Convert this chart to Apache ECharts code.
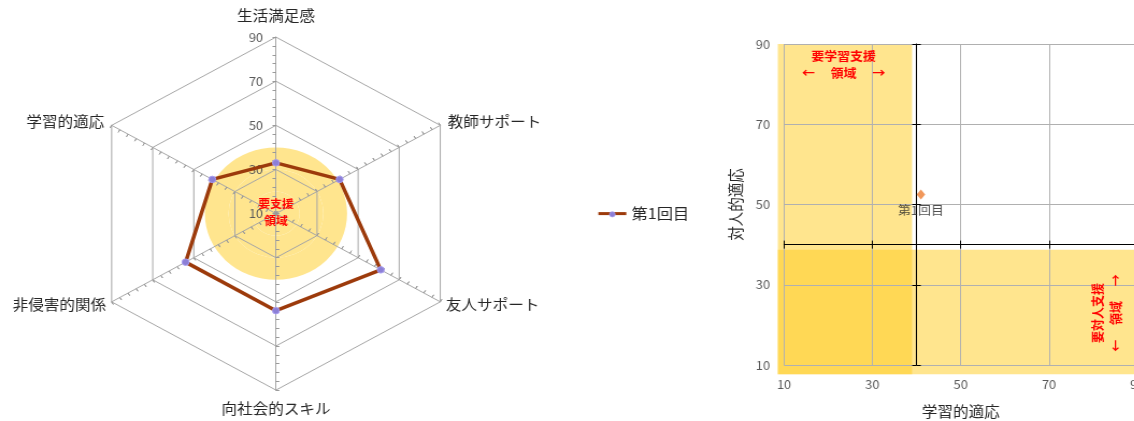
<!DOCTYPE html>
<html><head><meta charset="utf-8">
<script src="https://cdn.jsdelivr.net/npm/echarts@6/dist/echarts.min.js"></script>
<style>
html,body{margin:0;padding:0;overflow:hidden;background:#fff;}
#wrap{width:1134px;height:421px;overflow:hidden;position:relative;}
#chart{width:1075px;height:421px;transform:scaleX(1.075);transform-origin:0 0;}
</style></head><body><div id="wrap"><div id="chart"></div></div>
<script>
// ---- data ----
const indicators = ['生活満足感', '学習的適応', '非侵害的関係', '向社会的スキル', '友人サポート', '教師サポート'];
const scores = [33, 41, 54, 54, 61, 41];
const seriesName = '第1回目';
const radarMin = 10, radarMax = 90;
const scatterPoint = [41, 52.5];
const xAxisName = '学習的適応';
const yAxisName = '対人的適応';
const axisMin = 10, axisMax = 90, axisStep = 20;
const crossValue = 40;
const zoneLearning = [8.6, 39, 7.7, 90];   // x0, x1, y0, y1
const zoneSocial = [8.6, 100, 7.7, 38.7];
const centerNote = '要支援\n領域';
const learningNote = '要学習支援\n←　 領域 　→';
const socialNote = '要対人支援\n←　 領域 　→';

// ---- layout ----
const FONT = '"Noto Sans CJK JP", "Noto Sans", sans-serif';
const RC = [256.7, 213.6], RR = 176.5;
const G = {left: 729.3, top: 44, width: 328.7, height: 321};
const nameGaps = [14, 8, 6, 11, 6, 8];
const crossFrac = (crossValue - axisMin) / (axisMax - axisMin);
const TXT = '#262626', LBL = '#595959', GRID = '#B0B0B0', RGRID = '#A6A6A6';
const YEL = '#FFE58E', LINE = '#9C3A0B', MARK = '#8C7FD6';
const LEG = {left: 556.6, top: 206.1, w: 26, h: 3, cy: 214.3};

function baseRadar(extra) {
  return Object.assign({
    center: RC, radius: RR, startAngle: 90, shape: 'polygon',
    indicator: indicators.map(() => ({name: '', min: radarMin, max: radarMax})),
    axisName: {show: false}, axisLine: {show: false}, axisTick: {show: false},
    axisLabel: {show: false}, splitLine: {show: false}, splitArea: {show: false}
  }, extra);
}

const chart = echarts.init(document.getElementById('chart'), null, {renderer: 'canvas'});
chart.setOption({
  animation: false,
  textStyle: {fontFamily: FONT},
  radar: [
    baseRadar({shape: 'circle', splitNumber: 8,
      splitArea: {show: true, areaStyle: {color: [YEL, YEL, YEL, 'rgba(0,0,0,0)', 'rgba(0,0,0,0)', 'rgba(0,0,0,0)', 'rgba(0,0,0,0)', 'rgba(0,0,0,0)']}}}),
    {
      center: RC, radius: RR, startAngle: 90, shape: 'polygon', splitNumber: 4,
      indicator: indicators.map((n, i) => ({name: n, min: radarMin, max: radarMax, nameGap: nameGaps[i], axisLabel: {show: i === 0}})),
      axisName: {color: TXT, fontSize: 14.5, fontFamily: FONT},
      axisLine: {show: true, lineStyle: {color: RGRID, width: 1}},
      axisTick: {show: false},
      axisLabel: {show: false, color: LBL, fontSize: 12, margin: 12, fontFamily: FONT},
      splitLine: {show: true, lineStyle: {color: RGRID, width: 1}},
      splitArea: {show: false}
    },
    baseRadar({splitNumber: 20, axisTick: {show: true, length: 3, lineStyle: {color: '#999'}}}),
    baseRadar({splitNumber: 20, axisTick: {show: true, inside: true, length: 3, lineStyle: {color: '#999'}}})
  ],
  legend: {
    data: [{name: seriesName, icon: 'path://M0,0H26V3H0Z', itemStyle: {color: LINE, borderColor: LINE, borderWidth: 0}}],
    left: LEG.left, top: LEG.top, padding: 0, itemWidth: LEG.w, itemHeight: LEG.h,
    textStyle: {fontSize: 15, color: TXT, fontFamily: FONT}
  },
  grid: Object.assign({containLabel: false, outerBoundsMode: 'none'}, G),
  xAxis: [
    {type: 'value', min: axisMin, max: axisMax, interval: axisStep, position: 'bottom',
      name: xAxisName, nameLocation: 'middle', nameGap: 39,
      nameTextStyle: {color: TXT, fontSize: 14.5, fontFamily: FONT},
      axisLine: {show: false, onZero: false}, axisTick: {show: false},
      axisLabel: {color: LBL, fontSize: 12, margin: 13, fontFamily: FONT},
      splitLine: {show: true, lineStyle: {color: GRID, width: 1}}},
    {type: 'value', min: axisMin, max: axisMax, interval: axisStep, position: 'bottom',
      offset: -crossFrac * G.height,
      axisLine: {show: true, onZero: false, lineStyle: {color: '#000', width: 1}},
      axisTick: {show: true, length: 4, lineStyle: {color: '#000'}},
      axisLabel: {show: false}, splitLine: {show: false}},
    {type: 'value', min: axisMin, max: axisMax, interval: axisStep, position: 'bottom',
      offset: -crossFrac * G.height,
      axisLine: {show: false, onZero: false},
      axisTick: {show: true, inside: true, length: 4, lineStyle: {color: '#000'}},
      axisLabel: {show: false}, splitLine: {show: false}}
  ],
  yAxis: [
    {type: 'value', min: axisMin, max: axisMax, interval: axisStep, position: 'left',
      name: yAxisName, nameLocation: 'middle', nameGap: 38,
      nameTextStyle: {color: TXT, fontSize: 14.5, fontFamily: FONT},
      axisLine: {show: false, onZero: false}, axisTick: {show: false},
      axisLabel: {color: LBL, fontSize: 12, margin: 13, fontFamily: FONT},
      splitLine: {show: true, lineStyle: {color: GRID, width: 1}}},
    {type: 'value', min: axisMin, max: axisMax, interval: axisStep, position: 'left',
      offset: -crossFrac * G.width,
      axisLine: {show: true, onZero: false, lineStyle: {color: '#000', width: 1}},
      axisTick: {show: true, length: 4, lineStyle: {color: '#000'}},
      axisLabel: {show: false}, splitLine: {show: false}},
    {type: 'value', min: axisMin, max: axisMax, interval: axisStep, position: 'left',
      offset: -crossFrac * G.width,
      axisLine: {show: false, onZero: false},
      axisTick: {show: true, inside: true, length: 4, lineStyle: {color: '#000'}},
      axisLabel: {show: false}, splitLine: {show: false}}
  ],
  series: [
    {
      type: 'custom', name: 'zones', xAxisIndex: 0, yAxisIndex: 0, z: -1, silent: true, clip: false,
      data: [zoneLearning, zoneSocial],
      encode: {x: [0, 1], y: [2, 3]},
      renderItem: function (params, api) {
        const p0 = api.coord([api.value(0), api.value(3)]);
        const p1 = api.coord([api.value(1), api.value(2)]);
        return {type: 'rect', shape: {x: p0[0], y: p0[1], width: p1[0] - p0[0], height: p1[1] - p0[1]},
          style: {fill: 'rgba(255,203,30,0.5)'}};
      }
    },
    {
      type: 'radar', radarIndex: 1, name: seriesName,
      symbol: 'circle', symbolSize: 6.5,
      lineStyle: {color: LINE, width: 3.5},
      itemStyle: {color: MARK, borderColor: '#A79CF0', borderWidth: 1},
      data: [{value: scores, name: seriesName}]
    },
    {
      type: 'scatter', name: 'point', xAxisIndex: 0, yAxisIndex: 0,
      symbol: 'diamond', symbolSize: [8, 10],
      itemStyle: {color: '#ED7D31'},
      label: {show: true, position: 'bottom', distance: 5, formatter: seriesName, color: TXT, fontSize: 12, fontFamily: FONT},
      data: [scatterPoint]
    }
  ],
  graphic: [
    {type: 'circle', x: LEG.left + LEG.w / 2, y: LEG.cy, z: 100,
      shape: {r: 2.6}, style: {fill: MARK, stroke: '#A79CF0', lineWidth: 0.8}},
    {type: 'text', x: RC[0], y: RC[1] - 1, z: 10,
      style: {text: centerNote, fill: '#FF0000', fontSize: 11, fontWeight: 'bold', fontFamily: FONT, align: 'center', verticalAlign: 'middle', lineHeight: 17}},
    {type: 'text', x: 784.8, y: 64.7, z: 10,
      style: {text: learningNote, fill: '#FF0000', fontSize: 12, fontWeight: 'bold', fontFamily: FONT, align: 'center', verticalAlign: 'middle', lineHeight: 17}},
    {type: 'text', x: 1029.8, y: 313, rotation: Math.PI / 2, z: 10,
      style: {text: socialNote, fill: '#FF0000', fontSize: 12, fontWeight: 'bold', fontFamily: FONT, align: 'center', verticalAlign: 'middle', lineHeight: 17}}
  ]
});
</script></body></html>
